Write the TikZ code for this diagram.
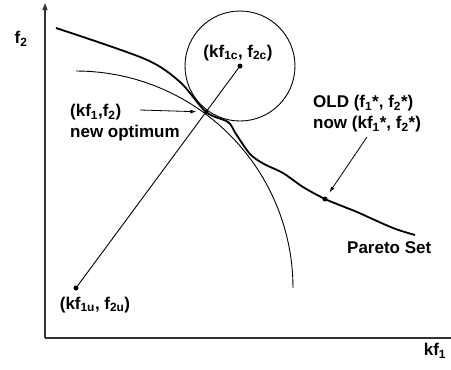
\documentclass[tikz,border=0pt]{standalone}
\usepackage{fontspec}
\setmainfont{Liberation Sans}
\usetikzlibrary{arrows.meta}

\begin{document}
\begin{tikzpicture}[
  x=1pt, y=-1pt,
  lbl/.style={font=\fontsize{17}{21}\selectfont\bfseries, inner sep=0pt, align=left},
  axis/.style={line width=1.1pt, black!80},
  curve/.style={line width=0.9pt},
  pareto/.style={line width=1.8pt, line join=round},
  dot/.style={circle, fill, inner sep=0pt, minimum size=5pt},
  arrow/.style={-{Latex[length=6pt, width=4pt]}, line width=0.8pt}
]
\useasboundingbox (0,0) rectangle (451,370);

\coordinate (orig) at (45,338);
\coordinate (ytop) at (45,3);
\coordinate (xend) at (451,338);
\draw[axis, -{Triangle[length=7pt, width=5pt]}] (orig) -- (ytop);
\draw[axis] (orig) -- (xend);
\node[lbl] (f2) at (21,39) {f\textsubscript{2}};
\node[lbl] (kf1) at (435,351) {kf\textsubscript{1}};

\node[dot] (utopia) at (76,288) {};
\node[dot] (comp) at (240,66) {};
\node[dot] (opt) at (206,112) {};
\node[dot] (old) at (325,199) {};

\draw[curve] plot[domain=90:0, samples=60] ({76+217*cos(\x)}, {288-217*sin(\x)});
\draw[curve] (comp.center) circle[radius=55];
\draw[curve] (utopia) -- (comp);
\draw[pareto] plot[smooth, tension=0.5] coordinates {
  (56,28) (145,59) (180,82) (206,112) (228,122) (236,134)
  (250,154) (264,164) (283,173) (303,187) (325,199)
  (347,208) (357,212) (393,228) (415,235)};

\node[lbl] (utopialbl) at (95,305) {(kf\textsubscript{1u}, f\textsubscript{2u})};
\node[lbl] (complbl) at (238,53) {(kf\textsubscript{1c}, f\textsubscript{2c})};
\node[lbl, anchor=west] (newopt) at (70,123) {(kf\textsubscript{1},f\textsubscript{2})\\new optimum};
\node[lbl, anchor=west] (oldopt) at (313,114) {OLD (f\textsubscript{1}*, f\textsubscript{2}*)\\now (kf\textsubscript{1}*, f\textsubscript{2}*)};
\node[lbl, anchor=west] (paretoset) at (347,248) {Pareto Set};

\coordinate (optarrow) at (140,110);
\coordinate (oldarrow) at (367,137);
\draw[arrow, shorten >=7pt] (optarrow) -- (opt);
\draw[arrow, shorten >=5pt] (oldarrow) -- (old);
\end{tikzpicture}
\end{document}
